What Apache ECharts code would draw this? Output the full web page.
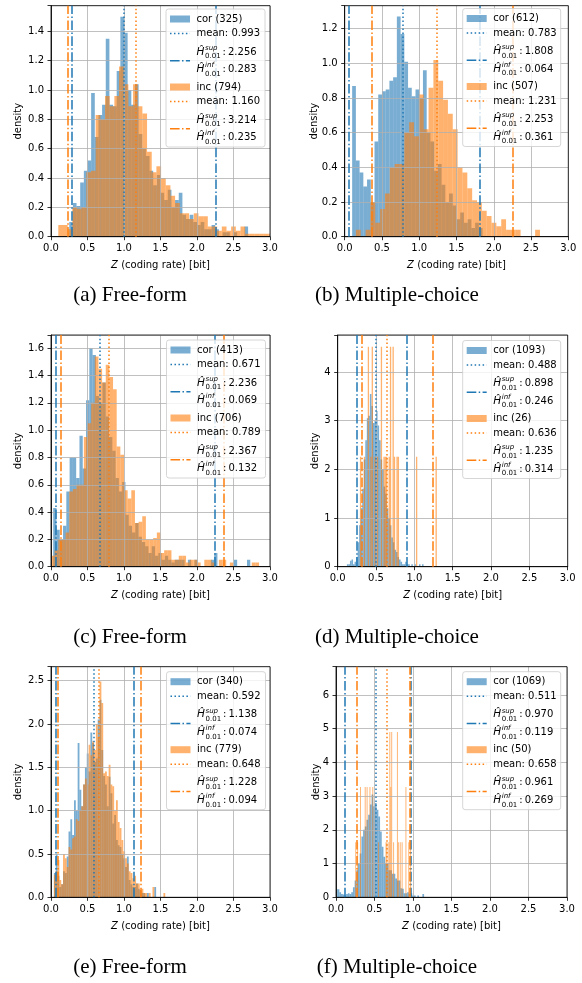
<!DOCTYPE html>
<html><head><meta charset="utf-8">
<script src="https://cdn.jsdelivr.net/npm/echarts@6/dist/echarts.min.js"></script>
<style>html,body{margin:0;padding:0;background:#fff}#c{width:582px;height:983px}</style>
</head><body><div id="c"></div>
<script>
// ---------------- DATA ----------------
// bins: [start, width]; heights: density per bin; stats: [count, mean, Hsup, Hinf]
const aCorBin = [0.25, 0.05];
const aCorHist = [0.10,0.23,0.21,0.37,0.45,0.52,0.98,0.68,0.83,0.90,1.35,0.90,0.89,1.13,1.50,1.39,1.00,0.90,1.04,0.70,0.60,0.55,0.45,0.35,0.42,0.30,0.25,0.32,0.20,0.25,0.30,0.15,0.12,0.15,0.10,0.08,0.10,0.05,0.05,0.08,0.05,0.00,0.03,0.03,0.00,0.03,0.00,0.00,0.07];
const aIncBin = [0.10, 0.064];
const aIncHist = [0.08,0.08,0.05,0.20,0.19,0.20,0.44,0.45,0.83,0.80,0.96,0.89,0.96,1.16,1.04,0.89,1.04,0.89,0.84,0.58,0.44,0.48,0.40,0.35,0.28,0.23,0.16,0.16,0.12,0.16,0.14,0.14,0.07,0.07,0.04,0.07,0.04,0.07,0.04,0.07,0.02,0.02,0.02,0.02,0.02,0.02];
const aCorStats = [325, 0.993, 2.256, 0.283];
const aIncStats = [794, 1.160, 3.214, 0.235];

const bCorBin = [0.10, 0.05];
const bCorHist = [0.87,0.44,0.37,0.29,0.33,0.20,0.55,0.82,0.84,0.85,0.90,0.92,1.27,1.17,1.01,0.86,0.81,0.85,0.80,0.96,0.60,0.55,0.38,0.42,0.30,0.20,0.25,0.18,0.10,0.14,0.08,0.10,0.05,0.08,0.05];
const bIncBin = [0.15, 0.065];
const bIncHist = [0.04,0.00,0.04,0.20,0.08,0.16,0.25,0.40,0.42,0.42,0.60,0.66,0.58,0.82,0.62,0.86,1.02,0.90,0.79,0.71,0.62,0.40,0.37,0.28,0.21,0.20,0.15,0.12,0.08,0.06,0.10,0.04,0.04,0.04,0.00,0.00,0.00,0.04];
const bCorStats = [612, 0.783, 1.808, 0.064];
const bIncStats = [507, 1.231, 2.253, 0.361];

const cCorBin = [0.03, 0.045];
const cCorHist = [0.43,0.27,0.20,0.30,0.55,0.80,0.80,0.65,0.96,0.72,1.22,1.60,1.55,1.25,1.20,1.35,1.10,0.95,0.85,0.65,0.55,0.62,0.38,0.30,0.25,0.32,0.22,0.18,0.15,0.10,0.15,0.08,0.10,0.05,0.08,0.05,0.03,0.05,0.05,0.05,0.00,0.05,0.00,0.05,0,0,0,0,0.05,0.10,0,0,0,0,0,0.05,0,0,0,0.05];
const cIncBin = [0.00, 0.05];
const cIncHist = [0.08,0.12,0.20,0.20,0.25,0.55,0.57,0.60,0.60,0.95,1.05,1.20,1.54,1.45,1.35,1.48,1.39,1.30,0.88,0.82,0.56,0.50,0.56,0.32,0.33,0.37,0.20,0.20,0.21,0.25,0.10,0.12,0.12,0.05,0.05,0.08,0.08,0.03,0.05,0.05,0.03,0.00,0.05,0.05,0.03,0.00,0.05,0.05,0.00,0.03,0.00,0.00,0.00,0.00,0.00,0.03,0.03];
const cCorStats = [413, 0.671, 2.236, 0.069];
const cIncStats = [706, 0.789, 2.367, 0.132];

const dCorBin = [0.12, 0.02];
const dCorHist = [0.05,0.05,0.12,0.15,0.05,0.10,0.20,0.50,0.85,1.20,1.60,2.20,2.60,3.05,3.10,3.55,3.30,2.95,3.00,3.20,2.90,2.60,2.20,2.00,1.65,1.50,1.20,1.00,0.85,0.60,0.50,0.35,0.30,0.20,0.15,0.10,0.05,0.05,0.10,0.05,0.05,0.00,0.05,0.00,0.05,0.00,0.00,0.05,0.00,0.05,0.00];
const dIncBin = [0.29, 0.017];
const dIncHist = [2.26,0,0,2.26,0,0,4.52,0,2.26,4.52,0,2.26,0,2.26,0,0,4.52,0,2.26,2.26,2.26,0,2.26,4.52,0,4.52,2.26,0,2.26,2.26,0,0,0,0,0,0,0,0,0,0,0,0,0,2.26,0,0,0,0,0,0,0,0,0,0,0,0,0,0,2.26];
const dCorStats = [1093, 0.488, 0.898, 0.246];
const dIncStats = [26, 0.636, 1.235, 0.314];

const eCorBin = [0.04, 0.025];
const eCorHist = [0.28,0.50,0.25,0.12,0.15,0.30,0.28,0.47,0.76,0.90,0.72,1.12,1.00,1.78,1.24,1.05,1.30,1.50,1.66,1.45,1.90,1.78,1.56,1.60,2.05,2.28,1.70,1.40,1.30,1.05,1.39,1.20,0.85,0.95,0.66,0.60,0.58,0.50,0.45,0.35,0.47,0.20,0.15,0.12,0.12,0.16,0.10,0.08,0.05,0.05,0.00,0.05,0.00,0.00,0.00,0.12];
const eIncBin = [0.04, 0.025];
const eIncHist = [0.26,0.30,0.43,0.20,0.15,0.50,0.45,0.35,0.58,0.55,0.68,0.70,0.90,0.88,1.00,1.05,1.30,1.37,1.30,1.76,1.64,1.80,1.70,2.00,1.85,2.49,2.24,1.43,1.45,1.40,1.53,1.30,1.28,1.00,1.12,0.87,0.80,0.66,0.53,0.45,0.39,0.30,0.28,0.22,0.25,0.16,0.16,0.08,0.10,0.05,0.05,0.00,0.05,0.00,0.12,0.00,0.00,0.00,0.00,0.00,0.05];
const eCorStats = [340, 0.592, 1.138, 0.074];
const eIncStats = [779, 0.648, 1.228, 0.094];

const fCorBin = [0.00, 0.022];
const fCorHist = [0.24,0.24,0.15,0.10,0.08,0.05,0.10,0.12,0.10,0.15,0.30,0.50,0.80,1.00,1.30,1.80,2.00,2.10,2.30,2.45,2.75,3.05,2.70,2.80,2.60,2.40,1.95,1.50,1.20,1.00,1.00,0.80,0.80,0.70,0.70,0.56,0.50,0.50,0.27,0.25,0.12,0.12,0.15,0.10,0.12,0.05,0.05,0.00,0.05,0.00,0.00,0.10];
const fIncBin = [0.25, 0.0123];
const fIncHist = [1.63,0,1.63,0,0,3.27,0,0,0,0,3.27,0,3.27,0,0,3.27,0,0,3.27,0,0,0,0,0,1.63,0,0,0,0,0,0,0,1.63,1.63,0,1.63,4.90,3.27,4.90,0,1.63,0,0,0,4.90,1.63,0,1.63,0,1.63,0,0,0,3.27,0,0,1.63,0,1.63,0];
const fCorStats = [1069, 0.511, 0.970, 0.119];
const fIncStats = [50, 0.658, 0.961, 0.269];

const captions = ['(a) Free-form','(b) Multiple-choice','(c) Free-form','(d) Multiple-choice','(e) Free-form','(f) Multiple-choice'];
const yMaxes = [1.575, 1.333, 1.697, 4.76, 2.66, 6.84];
const yIntervals = [0.2, 0.2, 0.2, 1, 0.5, 1];
const xTicks = [0, 0.5, 1.0, 1.5, 2.0, 2.5, 3.0];

// ---------------- LAYOUT / STYLE ----------------
const layout = [
  {left:51,    top:5.7,   width:219,   height:231,   yGap:28, lx:166,   ly:9,     lw:99},
  {left:344.7, top:5.7,   width:223.6, height:231,   yGap:25.5, lx:462.7, ly:8.5,   lw:98},
  {left:51,    top:335,   width:219,   height:231.7, yGap:28, lx:166.5, ly:340,   lw:99},
  {left:337.7, top:335,   width:230,   height:231.7, yGap:17, lx:462.7, ly:340.5, lw:98},
  {left:51,    top:666.7, width:219,   height:230.6, yGap:28, lx:166.5, ly:671.7, lw:99},
  {left:336,   top:666.7, width:231,   height:230.6, yGap:15, lx:462.7, ly:671.7, lw:98}
];
const capPos = [[130,295],[397,295],[130,637],[397,637],[130,967],[397,967]];
const BLUE = '#1f77b4', ORANGE = '#ff7f0e';
const BLUE_F = 'rgba(31,119,180,0.6)', ORANGE_F = 'rgba(255,127,14,0.6)';
const DOT = [1.5, 2.475], DASHDOT = [9.6, 2.4, 1.5, 2.4];
const FONT = 'DejaVu Sans';

const panels = [
  [aCorBin,aCorHist,aCorStats,aIncBin,aIncHist,aIncStats],
  [bCorBin,bCorHist,bCorStats,bIncBin,bIncHist,bIncStats],
  [cCorBin,cCorHist,cCorStats,cIncBin,cIncHist,cIncStats],
  [dCorBin,dCorHist,dCorStats,dIncBin,dIncHist,dIncStats],
  [eCorBin,eCorHist,eCorStats,eIncBin,eIncHist,eIncStats],
  [fCorBin,fCorHist,fCorStats,fIncBin,fIncHist,fIncStats]
];

function histSeries(gi, bin, hist, fill) {
  const w = bin[1];
  return {
    type: 'custom', xAxisIndex: gi, yAxisIndex: gi, clip: true, silent: true, z: 2,
    encode: {x: 0, y: 1},
    data: hist.map((h, i) => [bin[0] + i * w, h]),
    renderItem: function (params, api) {
      const x0 = api.value(0), h = api.value(1);
      if (!(h > 0)) return null;
      const p0 = api.coord([x0, h]);
      const p1 = api.coord([x0 + w, 0]);
      return {type: 'rect', shape: {x: p0[0], y: p0[1], width: p1[0] - p0[0], height: p1[1] - p0[1]},
              style: {fill: fill}};
    }
  };
}

function txt(text, x, y, size, italic) {
  return {type: 'text', z: 102, silent: true,
    style: {text: text, x: x, y: y, fill: '#000', fontSize: size, fontFamily: FONT,
            fontStyle: italic ? 'italic' : 'normal', align: 'left', verticalAlign: 'middle'}};
}
function hline(x1, x2, y, color, dash) {
  return {type: 'line', z: 101, silent: true, shape: {x1: x1, y1: y, x2: x2, y2: y},
          style: {stroke: color, lineWidth: 1.5, lineDash: dash}};
}
function hEntry(tx, y, sup, val) {
  return [
    txt('Ĥ', tx, y, 10.5, true),
    txt(sup, tx + 8.5, y - 4, 7, true),
    txt('0.01', tx + 8.5, y + 4.5, 7, false),
    txt(':', tx + 26, y, 10, false),
    txt(val.toFixed(3), tx + 31.5, y, 10, false)
  ];
}
function legendEls(L, corStats, incStats) {
  const bx = L.lx, by = L.ly, bw = L.lw, bh = 138;
  const els = [{type: 'rect', z: 100, silent: true, shape: {x: bx, y: by, width: bw, height: bh, r: 2.5},
                style: {fill: 'rgba(255,255,255,0.8)', stroke: '#cccccc', lineWidth: 0.8}}];
  const rows = [10, 24.5, 43, 60.5, 78, 92.5, 111, 128.5];
  const tx = bx + 30.5;
  [[corStats, 'cor', BLUE, BLUE_F], [incStats, 'inc', ORANGE, ORANGE_F]].forEach((g, k) => {
    const s = g[0], r = rows.slice(k * 4, k * 4 + 4).map(v => by + v);
    els.push({type: 'rect', z: 101, silent: true, shape: {x: bx + 4, y: r[0] - 3.5, width: 20, height: 7}, style: {fill: g[3]}});
    els.push(txt(g[1] + ' (' + s[0] + ')', tx, r[0], 10, false));
    els.push(hline(bx + 4, bx + 24, r[1], g[2], DOT));
    els.push(txt('mean: ' + s[1].toFixed(3), tx, r[1], 10, false));
    els.push(hline(bx + 4, bx + 24, (r[2] + r[3]) / 2, g[2], DASHDOT));
    hEntry(tx, r[2], 'sup', s[2]).forEach(e => els.push(e));
    hEntry(tx, r[3], 'inf', s[3]).forEach(e => els.push(e));
  });
  return els;
}

const opt = {animation: false, backgroundColor: '#fff', grid: [], xAxis: [], yAxis: [], series: [], graphic: {elements: []}};
panels.forEach((p, i) => {
  const L = layout[i];
  const yint = yIntervals[i], dec = yint < 1 ? 1 : 0;
  opt.grid.push({left: L.left, top: L.top, width: L.width, height: L.height, show: true,
    borderColor: '#000', borderWidth: 0.8, backgroundColor: 'rgba(0,0,0,0)', z: 5,
    containLabel: false, outerBoundsMode: 'none'});
  const tickStyle = {show: true, length: 3.5, inside: false, lineStyle: {color: '#000', width: 0.8}};
  opt.xAxis.push({type: 'value', gridIndex: i, min: xTicks[0], max: xTicks[xTicks.length - 1], interval: xTicks[1] - xTicks[0], z: 3,
    axisLine: {show: true, onZero: false, lineStyle: {color: '#000', width: 0.8}},
    axisTick: tickStyle,
    axisLabel: {margin: 7, fontSize: 10, fontFamily: FONT, color: '#000', formatter: v => v.toFixed(1)},
    splitLine: {show: true, lineStyle: {color: '#b0b0b0', width: 0.8}},
    name: '{i|Z} (coding rate) [bit]', nameLocation: 'middle', nameGap: 24, nameMoveOverlap: false,
    nameTextStyle: {fontFamily: FONT, fontSize: 10, color: '#000',
      rich: {i: {fontFamily: FONT, fontSize: 10, fontStyle: 'italic', color: '#000'}}}
  });
  opt.yAxis.push({type: 'value', gridIndex: i, min: 0, max: yMaxes[i], interval: yint, z: 3,
    axisLine: {show: true, onZero: false, lineStyle: {color: '#000', width: 0.8}},
    axisTick: tickStyle,
    axisLabel: {margin: 7, fontSize: 10, fontFamily: FONT, color: '#000',
      formatter: v => { const k = v / yint; return Math.abs(k - Math.round(k)) < 1e-6 ? v.toFixed(dec) : ''; }},
    splitLine: {show: true, lineStyle: {color: '#b0b0b0', width: 0.8}},
    name: 'density', nameLocation: 'middle', nameRotate: 90, nameGap: L.yGap, nameMoveOverlap: false,
    nameTextStyle: {fontFamily: FONT, fontSize: 10, color: '#000'}
  });
  opt.series.push(histSeries(i, p[0], p[1], BLUE_F));
  opt.series.push(histSeries(i, p[3], p[4], ORANGE_F));
  const marks = [];
  [[p[2], BLUE], [p[5], ORANGE]].forEach(g => {
    const s = g[0];
    [[s[1], DOT], [s[2], DASHDOT], [s[3], DASHDOT]].forEach(m => {
      if (m[0] >= xTicks[0] && m[0] <= xTicks[xTicks.length - 1])
        marks.push({xAxis: m[0], lineStyle: {color: g[1], width: 1.5, type: m[1]}});
    });
  });
  opt.series.push({type: 'line', xAxisIndex: i, yAxisIndex: i, data: [], z: 4, silent: true,
    markLine: {silent: true, symbol: ['none', 'none'], label: {show: false}, animation: false,
      emphasis: {disabled: true}, data: marks}});
  legendEls(L, p[2], p[5]).forEach(e => opt.graphic.elements.push(e));
  opt.graphic.elements.push({type: 'text', z: 102, silent: true,
    style: {text: captions[i], x: capPos[i][0], y: capPos[i][1], fill: '#000', fontSize: 21,
            fontFamily: 'Liberation Serif', align: 'center', verticalAlign: 'middle'}});
});

const chart = echarts.init(document.getElementById('c'), null, {renderer: 'canvas', width: 582, height: 983});
chart.setOption(opt);
</script>
</body></html>
